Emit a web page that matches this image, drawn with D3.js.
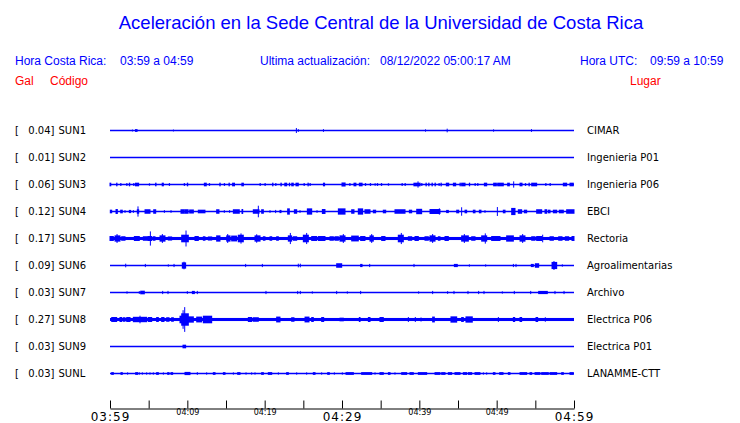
<!DOCTYPE html>
<html><head><meta charset="utf-8">
<script src="https://cdn.jsdelivr.net/npm/d3@7"></script>
<style>body{margin:0;background:#fff}svg{display:block}</style>
</head><body>
<svg id="c" width="740" height="423"></svg>
<script>
// ---- data ----
const titleText = "Aceleración en la Sede Central de la Universidad de Costa Rica";
const localLabel = "Hora Costa Rica:", localRange = "03:59 a 04:59";
const updateLabel = "Ultima actualización:", updateValue = "08/12/2022 05:00:17 AM";
const utcLabel = "Hora UTC:", utcRange = "09:59 a 10:59";
const stationCodes = ["SUN1","SUN2","SUN3","SUN4","SUN5","SUN6","SUN7","SUN8","SUN9","SUNL"];
const stationNames = ["CIMAR","Ingenieria P01","Ingenieria P06","EBCI","Rectoria","Agroalimentarias","Archivo","Electrica P06","Electrica P01","LANAMME-CTT"];
const peakGal = [0.04,0.01,0.06,0.12,0.17,0.09,0.03,0.27,0.03,0.03];
const baseNoise = [0.004,0.004,0.006,0.006,0.035,0.005,0.004,0.035,0.004,0.008];
const tickMinutes = [0,5,10,15,20,25,30,35,40,45,50,55,60];
const tickLabels = ["03:59","","04:09","","04:19","","04:29","","04:39","","04:49","","04:59"];
const bigTicks = ["03:59","04:29","04:59"];
// bursts: [start minute, end minute, half amplitude (Gal)] — minutes after 03:59
const sun1 = [[2.9,2.9,0.01],[3.3,3.5,0.02],[8.2,8.2,0.01],[24.1,24.1,0.045],[24.35,24.35,0.02],[27.6,27.6,0.02],[40.8,40.8,0.015],[43.6,43.6,0.03],[49.6,49.6,0.015],[54.5,54.5,0.02]];
const sun2 = [];
const sun3 = [[0,0.1,0.03],[0.86,0.9,0.03],[1.38,1.42,0.02],[2.16,2.2,0.02],[2.5,2.55,0.03],[3.06,3.1,0.02],[3.3,3.7,0.03],[5.09,5.12,0.015],[5.9,5.95,0.03],[6.75,6.9,0.03],[7.67,7.7,0.02],[9.6,9.65,0.02],[10,10.05,0.03],[12.2,12.45,0.03],[12.84,12.88,0.02],[14.2,14.25,0.03],[14.78,14.82,0.02],[15.39,15.43,0.03],[15.85,16.1,0.03],[17.05,17.25,0.03],[19.4,19.44,0.02],[20.04,20.08,0.02],[21.03,21.07,0.03],[21.42,21.46,0.02],[22.1,22.15,0.03],[22.6,22.85,0.03],[23.19,23.23,0.03],[23.5,23.7,0.03],[24.05,24.35,0.03],[25.09,25.13,0.02],[25.6,25.64,0.03],[25.86,25.9,0.02],[27.6,27.75,0.03],[30,30.4,0.035],[31,31.04,0.02],[31.55,31.8,0.03],[32.24,32.6,0.03],[33.02,33.06,0.02],[33.66,33.7,0.02],[34.27,34.31,0.015],[34.57,34.61,0.02],[35.09,35.13,0.02],[35.99,36.03,0.015],[37.76,37.8,0.02],[38.15,38.19,0.02],[39.3,40.1,0.03],[39.83,39.83,0.06],[40.3,40.34,0.02],[40.86,40.9,0.03],[41.21,41.25,0.03],[41.64,41.68,0.03],[42.03,42.07,0.03],[42.54,42.58,0.02],[42.8,42.84,0.03],[43.49,43.8,0.03],[44.4,44.7,0.03],[45.26,45.3,0.03],[45.47,45.91,0.03],[46.47,46.51,0.03],[47.2,47.24,0.02],[47.54,47.58,0.02],[48.41,48.71,0.03],[49.61,49.96,0.03],[50.13,50.86,0.03],[51.42,51.64,0.03],[52.2,52.2,0.06],[53.02,53.28,0.03],[53.71,53.75,0.02],[54.18,54.22,0.03],[54.53,55.17,0.03],[56.34,56.38,0.02],[56.9,56.94,0.02],[58.62,59.05,0.03],[59.48,59.91,0.03]];
const sun4 = [[0.04,0.22,0.03],[0.78,0.95,0.045],[1.38,1.59,0.03],[1.94,1.94,0.02],[2.5,2.67,0.025],[3.02,3.02,0.02],[3.53,3.71,0.04],[3.62,3.62,0.105],[4.53,5.17,0.04],[5.65,5.91,0.04],[7.03,7.03,0.02],[7.89,7.89,0.02],[9.18,9.6,0.04],[9.7,10.1,0.04],[10.3,10.78,0.035],[11.42,12.28,0.03],[13.79,14.09,0.04],[14.78,14.78,0.02],[15.47,15.47,0.02],[15.95,16.72,0.04],[17.07,17.16,0.045],[18.53,19.27,0.04],[19.18,19.18,0.12],[19.61,19.83,0.04],[20.69,20.69,0.02],[21.42,21.42,0.025],[21.98,22.11,0.025],[22.97,23.19,0.06],[23.84,24.14,0.04],[24.57,24.57,0.02],[25.52,26.08,0.06],[26.77,26.77,0.02],[27.46,27.8,0.045],[29.53,30.39,0.06],[31.25,31.55,0.04],[32.11,32.67,0.06],[32.97,33.62,0.04],[34.05,34.35,0.03],[35.34,35.65,0.03],[36.85,38.15,0.04],[38.71,39.01,0.03],[39.66,40.3,0.05],[41.38,42.67,0.045],[42.59,42.59,0.06],[43.53,43.75,0.025],[44.83,45.09,0.03],[45.47,45.47,0.085],[45.91,46.12,0.03],[46.98,47.2,0.03],[47.76,47.97,0.03],[48.49,48.49,0.02],[50.09,50.09,0.09],[50.86,51.08,0.03],[51.94,52.37,0.07],[52.8,53.23,0.04],[53.58,53.88,0.03],[55.17,55.82,0.04],[56.25,56.47,0.04],[56.68,56.9,0.03],[57.33,57.76,0.03],[58.1,58.62,0.03],[59.05,60,0.04]];
const sun5 = [[0,0.43,0.045],[0.65,1.29,0.06],[0.91,0.91,0.09],[1.51,1.94,0.04],[3.15,3.79,0.045],[4.31,4.74,0.04],[4.87,5.39,0.045],[5.22,5.22,0.15],[5.6,5.82,0.04],[6.47,7.11,0.06],[6.77,6.77,0.09],[7.54,7.97,0.035],[9.27,10.13,0.075],[9.83,9.83,0.17],[10.99,11.42,0.045],[12.07,12.28,0.04],[12.72,13.15,0.035],[13.79,14.22,0.06],[15.09,15.52,0.06],[15.22,15.22,0.09],[15.73,16.38,0.055],[16.59,17.24,0.075],[16.94,16.94,0.105],[18.75,19.4,0.06],[18.97,18.97,0.085],[19.83,20.04,0.04],[20.69,20.91,0.04],[21.55,21.77,0.04],[23.06,23.49,0.06],[23.32,23.32,0.115],[23.71,24.14,0.04],[25,25.65,0.075],[25.43,25.43,0.115],[26.08,26.72,0.045],[26.94,27.8,0.045],[28.45,28.88,0.04],[29.09,29.53,0.04],[29.74,30.39,0.06],[30.17,30.17,0.09],[31.25,32.11,0.055],[32.41,32.97,0.045],[33.62,34.05,0.06],[33.84,33.84,0.09],[35.13,35.56,0.045],[37.28,37.93,0.075],[37.67,37.67,0.115],[38.58,39.01,0.04],[39.44,39.87,0.045],[40.73,41.16,0.04],[41.38,42.03,0.06],[41.72,41.72,0.09],[42.46,42.67,0.04],[43.32,43.75,0.045],[45.47,46.34,0.06],[45.82,45.82,0.09],[46.77,47.2,0.04],[48.06,48.71,0.06],[48.53,48.53,0.105],[49.35,50.43,0.045],[51.29,52.16,0.06],[53.02,53.66,0.06],[53.36,53.36,0.09],[54.53,54.96,0.04],[55.17,55.82,0.045],[55.95,55.95,0.075],[56.9,57.33,0.04],[58.02,58.45,0.04],[58.88,59.31,0.04],[59.74,60,0.045]];
const sun6 = [[2.03,2.03,0.03],[4.57,4.57,0.025],[7.54,7.54,0.015],[8.28,8.28,0.025],[9.35,9.78,0.06],[9.57,9.57,0.075],[17.54,17.54,0.025],[19.7,19.7,0.025],[24.35,24.35,0.03],[24.61,24.61,0.03],[29.31,29.96,0.04],[32.41,32.59,0.025],[33.58,33.58,0.025],[39.31,39.31,0.025],[44.53,44.91,0.025],[46.47,46.47,0.015],[48.58,48.58,0.015],[52.16,52.16,0.025],[52.5,52.5,0.025],[54.48,54.74,0.025],[55,55.43,0.04],[57.16,57.76,0.07],[57.41,57.41,0.09],[58.49,58.49,0.015]];
const sun7 = [[2.2,2.2,0.015],[3.79,3.79,0.02],[3.97,4.44,0.03],[6.81,6.81,0.025],[7.5,7.5,0.025],[10,10,0.02],[10.65,10.91,0.025],[11.29,11.29,0.025],[20.17,20.17,0.025],[24.27,24.27,0.025],[24.61,24.61,0.025],[26.16,26.16,0.015],[29.31,29.31,0.025],[30.69,30.69,0.015],[32.41,32.41,0.025],[39.91,39.91,0.015],[41.72,41.72,0.025],[43.66,43.66,0.02],[44.48,44.48,0.025],[46.29,46.29,0.025],[47.67,47.67,0.025],[48.36,48.36,0.025],[50.73,50.73,0.015],[52.28,52.28,0.025],[54.4,54.4,0.025],[55.43,56.55,0.025],[57.54,57.54,0.025],[58.71,58.71,0.025]];
const sun8 = [[0.22,0.86,0.045],[1.29,1.51,0.045],[1.72,1.94,0.04],[2.16,2.59,0.045],[3.02,4.74,0.05],[3.88,3.88,0.075],[4.96,5.39,0.045],[6.03,6.25,0.045],[6.68,6.98,0.045],[7.33,7.63,0.04],[7.97,8.19,0.04],[9.05,9.27,0.075],[9.27,10.13,0.13],[9.66,9.66,0.27],[9.45,9.45,0.2],[10.13,10.78,0.06],[11.21,11.85,0.055],[12.07,13.15,0.075],[17.89,18.32,0.045],[18.53,19.18,0.04],[21.55,21.98,0.055],[23.49,23.79,0.04],[25.22,25.73,0.055],[26.08,26.29,0.045],[27.37,27.63,0.045],[29.74,30.17,0.03],[32.24,32.33,0.045],[33.41,33.62,0.045],[34.91,35.34,0.045],[38.58,38.58,0.045],[39.48,39.48,0.045],[40.22,40.22,0.035],[41.72,41.94,0.055],[44.09,44.83,0.06],[45.47,45.69,0.045],[46.03,46.85,0.06],[50.22,50.22,0.045],[52.16,52.33,0.045],[53.02,53.23,0.045],[55.09,55.3,0.045],[56.29,56.29,0.04]];
const sun9 = [[9.44,9.78,0.03]];
const sunl = [[0.22,0.43,0.02],[1.42,1.59,0.02],[2.28,2.28,0.015],[3.32,3.58,0.02],[3.79,3.79,0.015],[4.18,4.18,0.015],[4.74,4.74,0.015],[5.17,5.17,0.015],[5.6,5.6,0.015],[6.03,6.25,0.02],[6.9,6.9,0.015],[7.46,7.63,0.02],[7.89,8.1,0.02],[9.7,10.34,0.025],[11.29,11.29,0.02],[12.5,12.5,0.015],[13.36,13.58,0.02],[14.66,14.87,0.02],[15.95,15.95,0.015],[16.51,16.81,0.02],[17.59,17.59,0.015],[18.32,18.32,0.015],[18.75,18.75,0.015],[19.61,19.83,0.02],[20.47,20.91,0.02],[21.77,21.77,0.015],[22.84,23.06,0.02],[24.14,24.14,0.015],[25.43,25.43,0.015],[26.29,26.51,0.02],[27.37,27.37,0.015],[28.15,28.36,0.02],[29.01,29.01,0.015],[30.04,30.04,0.015],[30.52,31.47,0.02],[32.54,33.84,0.02],[34.27,34.27,0.015],[34.91,35.34,0.02],[36,36.21,0.02],[36.85,36.85,0.015],[37.72,38.36,0.02],[38.79,39.22,0.02],[39.87,40.95,0.02],[42.03,42.67,0.02],[42.89,43.32,0.02],[43.75,44.18,0.02],[44.61,45.26,0.02],[45.69,46.12,0.02],[46.34,46.77,0.02],[47.2,47.84,0.02],[48.28,48.28,0.015],[48.71,48.71,0.015],[49.57,49.78,0.02],[50.39,50.82,0.02],[51.51,51.72,0.02],[53.02,53.88,0.02],[54.31,54.53,0.02],[54.96,55.6,0.02],[55.82,56.68,0.02],[56.9,57.76,0.02],[58.41,58.62,0.02],[59.48,59.91,0.02]];
const bursts = [sun1,sun2,sun3,sun4,sun5,sun6,sun7,sun8,sun9,sunl];

// ---- drawing ----
const svg = d3.select("#c");
const BLUE = "#0000ff", RED = "#ff0000";
const x = d3.scaleLinear().domain([0,60]).range([110,574]);
const y = d3.scalePoint().domain(stationCodes).range([130.5,373.5]);
const a = d3.scaleLinear().domain([0,1]).range([0,44]);
const sans = "'Liberation Sans', Arial, Helvetica, sans-serif";
const dv = "'DejaVu Sans', sans-serif";

svg.append("text").attr("x",381).attr("y",29).attr("text-anchor","middle")
  .attr("font-family",sans).attr("font-size",18.5).attr("fill",BLUE).text(titleText);

const hdr = [[15,localLabel],[120,localRange],[260,updateLabel],[380,updateValue],[580,utcLabel],[650,utcRange]];
svg.selectAll("text.hdr").data(hdr).join("text").attr("class","hdr")
  .attr("x",d=>d[0]).attr("y",65).attr("font-family",sans).attr("font-size",12)
  .attr("fill",BLUE).text(d=>d[1]);
const hdr2 = [[15,"Gal"],[50,"Código"],[630,"Lugar"]];
svg.selectAll("text.hdr2").data(hdr2).join("text").attr("class","hdr2")
  .attr("x",d=>d[0]).attr("y",85).attr("font-family",sans).attr("font-size",12)
  .attr("fill",RED).text(d=>d[1]);

const rows = svg.append("g").selectAll("g").data(stationCodes).join("g")
  .attr("transform",d=>`translate(0,${y(d)})`);
rows.append("text").attr("x",15).attr("dy","0.36em").attr("font-family",dv).attr("font-size",10).text("[");
rows.append("text").attr("x",54.5).attr("dy","0.36em").attr("text-anchor","end").attr("font-family",dv).attr("font-size",10)
  .text((d,i)=>peakGal[i].toFixed(2)+"]");
rows.append("text").attr("x",58.5).attr("dy","0.36em").attr("font-family",dv).attr("font-size",10).text(d=>d);
rows.append("text").attr("x",587).attr("dy","0.36em").attr("font-family",dv).attr("font-size",10)
  .text((d,i)=>stationNames[i]);
// base trace (noise band)
rows.append("rect").attr("x",x(0)).attr("width",x(60)-x(0))
  .attr("y",(d,i)=>-Math.max(0.75,a(baseNoise[i]))).attr("height",(d,i)=>2*Math.max(0.75,a(baseNoise[i])))
  .attr("fill",BLUE);
rows.each(function(d,i){
  d3.select(this).selectAll("rect.b").data(bursts[i]).join("rect").attr("class","b")
    .attr("x",b=>x(b[0])-0.5).attr("width",b=>Math.max(1,x(b[1])-x(b[0])+1))
    .attr("y",b=>-a(b[2])-0.5).attr("height",b=>2*a(b[2])+1).attr("fill",BLUE);
});

// time axis
const ax = svg.append("g").attr("transform","translate(0,408.5)")
  .call(d3.axisBottom(x).tickValues(tickMinutes).tickSize(-8).tickSizeOuter(0)
        .tickFormat((d,i)=>tickLabels[i]));
ax.select(".domain").attr("stroke","#000");
ax.selectAll(".tick line").attr("stroke","#000");
ax.selectAll(".tick text").attr("font-family",dv).attr("fill","#000")
  .attr("font-size",(d,i)=>bigTicks.includes(tickLabels[i])?12:8)
  .attr("letter-spacing",(d,i)=>bigTicks.includes(tickLabels[i])?1:0)
  .attr("y",(d,i)=>bigTicks.includes(tickLabels[i])?3.5:1)
  .attr("dy","0.71em");
</script>
</body></html>
